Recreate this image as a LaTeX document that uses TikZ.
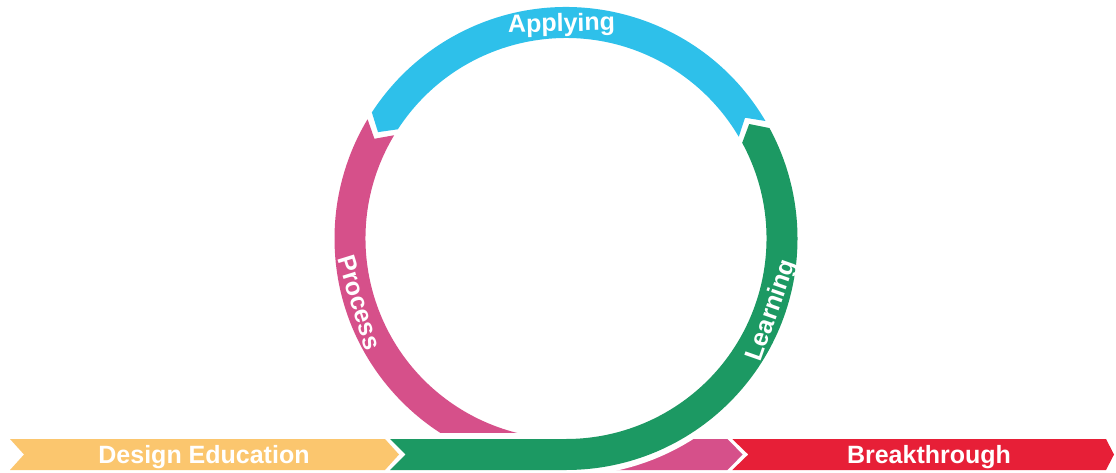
\documentclass[tikz,border=0pt]{standalone}
\usepackage{fontspec}
\setmainfont{Liberation Sans}
\definecolor{educationyellow}{RGB}{251,198,110}
\definecolor{learninggreen}{RGB}{28,153,99}
\definecolor{processpink}{RGB}{214,80,138}
\definecolor{applyingblue}{RGB}{46,192,234}
\definecolor{breakthroughred}{RGB}{231,31,55}

\begin{document}
\begin{tikzpicture}[x=1pt,y=1pt]
  \tikzstyle{words}=[font=\fontsize{25}{30}\selectfont\bfseries,text=white,inner sep=0pt]
  \useasboundingbox (0,0) rectangle (1116,472);
  \coordinate (centre) at (566,233.5);
  \begin{scope}[shift={(centre)}]
    \fill[processpink] (149:231.5pt) -- (152.5:216pt) -- (149:200.5pt)
      arc[start angle=149,end angle=270,radius=200.5pt]
      -- (161.3,-200.5) -- (176.7,-216) -- (161.3,-231.5) -- (0,-231.5)
      arc[start angle=270,end angle=149,radius=231.5pt] -- cycle;
    \fill[learninggreen,preaction={draw=white,line width=12pt}]
      (-176,-200.5) -- (-160.5,-216) -- (-176,-231.5) -- (0,-231.5)
      arc[start angle=-90,end angle=28.5,radius=231.5pt] -- (32:216pt) -- (28.5:200.5pt)
      arc[start angle=28.5,end angle=-90,radius=200.5pt] -- cycle;
    \fill[applyingblue] (30.5:231.5pt)
      arc[start angle=30.5,end angle=147,radius=231.5pt] -- (150.5:216pt) -- (147:200.5pt)
      arc[start angle=147,end angle=30.5,radius=200.5pt] -- (34:216pt) -- cycle;
    \node[words,rotate=1.2] (applying) at (91.2:213.5pt) {Applying};
    \node[words,rotate=-72.8] (process) at (197.2:216pt) {Process};
    \node[words,rotate=70.7] (learning) at (340.7:218.5pt) {Learning};
  \end{scope}
  \fill[educationyellow] (10,33) -- (385,33) -- (399,17.5) -- (385,2) -- (10,2) -- (24,17.5) -- cycle;
  \fill[breakthroughred] (732.3,33) -- (1106,33) -- (1114,17.5) -- (1106,2) -- (732.3,2) -- (748.3,17.5) -- cycle;
  \node[words,anchor=base] (education) at (204,8.7) {Design Education};
  \node[words,anchor=base] (breakthrough) at (929,8.7) {Breakthrough};
\end{tikzpicture}
\end{document}
